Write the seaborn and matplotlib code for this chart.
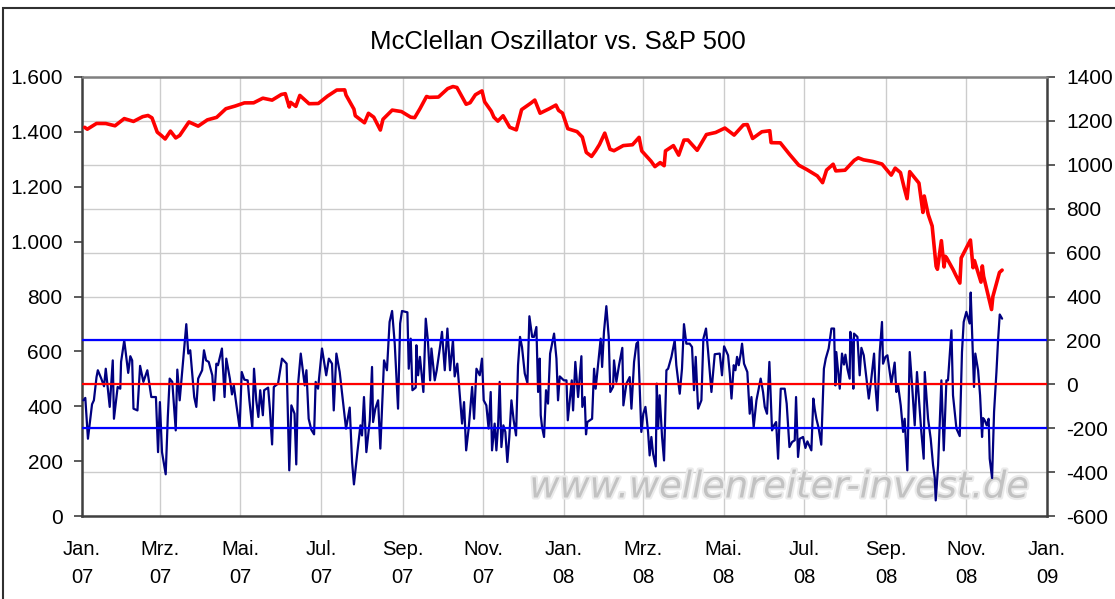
import numpy as np
import pandas as pd
import matplotlib
matplotlib.use("Agg")
import matplotlib.pyplot as plt
import matplotlib.patheffects as pe
import seaborn as sns
from matplotlib.ticker import FuncFormatter, MultipleLocator
from matplotlib.patches import Rectangle

sns.set_style("white")
plt.rcParams['font.family'] = ['Liberation Sans', 'DejaVu Sans']

# ---------------- data ----------------
title = "McClellan Oszillator vs. S&P 500"
watermark = "www.wellenreiter-invest.de"

spx_dates = [
    "2007-01-03", "2007-01-05", "2007-01-12", "2007-01-19", "2007-01-26", "2007-02-02", "2007-02-09",
    "2007-02-16", "2007-02-20", "2007-02-23", "2007-02-27", "2007-03-02", "2007-03-05", "2007-03-09",
    "2007-03-13", "2007-03-16", "2007-03-23", "2007-03-30", "2007-04-06", "2007-04-13", "2007-04-20",
    "2007-04-27", "2007-05-04", "2007-05-11", "2007-05-18", "2007-05-25", "2007-06-01", "2007-06-04",
    "2007-06-07", "2007-06-08", "2007-06-12", "2007-06-15", "2007-06-22", "2007-06-29", "2007-07-06",
    "2007-07-13", "2007-07-19", "2007-07-20", "2007-07-26", "2007-07-27", "2007-08-03", "2007-08-06",
    "2007-08-10", "2007-08-15", "2007-08-17", "2007-08-24", "2007-08-31", "2007-09-07", "2007-09-10",
    "2007-09-14", "2007-09-19", "2007-09-21", "2007-09-28", "2007-10-05", "2007-10-09", "2007-10-12",
    "2007-10-19", "2007-10-22", "2007-10-26", "2007-10-31", "2007-11-02", "2007-11-07", "2007-11-09",
    "2007-11-12", "2007-11-16", "2007-11-21", "2007-11-26", "2007-11-30", "2007-12-07", "2007-12-10",
    "2007-12-14", "2007-12-21", "2007-12-26", "2007-12-28", "2007-12-31",
    "2008-01-04", "2008-01-11", "2008-01-15", "2008-01-18", "2008-01-22", "2008-01-25", "2008-01-28",
    "2008-02-01", "2008-02-05", "2008-02-08", "2008-02-15", "2008-02-22", "2008-02-27", "2008-02-29",
    "2008-03-07", "2008-03-10", "2008-03-14", "2008-03-17", "2008-03-18", "2008-03-24", "2008-03-28",
    "2008-04-01", "2008-04-04", "2008-04-11", "2008-04-18", "2008-04-25", "2008-05-02", "2008-05-09",
    "2008-05-16", "2008-05-19", "2008-05-23", "2008-05-30", "2008-06-05", "2008-06-06", "2008-06-13",
    "2008-06-20", "2008-06-27", "2008-07-03", "2008-07-11", "2008-07-15", "2008-07-18", "2008-07-23",
    "2008-07-25", "2008-08-01", "2008-08-08", "2008-08-11", "2008-08-15", "2008-08-22", "2008-08-29",
    "2008-09-05", "2008-09-08", "2008-09-12", "2008-09-15", "2008-09-17", "2008-09-19", "2008-09-26",
    "2008-09-29", "2008-09-30", "2008-10-03", "2008-10-06", "2008-10-09", "2008-10-10", "2008-10-13",
    "2008-10-15", "2008-10-16", "2008-10-17", "2008-10-22", "2008-10-24", "2008-10-27", "2008-10-28",
    "2008-10-31", "2008-11-04", "2008-11-06", "2008-11-07", "2008-11-12", "2008-11-13", "2008-11-14",
    "2008-11-20", "2008-11-21", "2008-11-24", "2008-11-26", "2008-11-28",
]
spx_vals = [
    1416.6, 1409.7, 1430.7, 1430.5, 1422.2, 1448.4, 1438.1,
    1455.5, 1459.7, 1451.2, 1399.0, 1387.2, 1374.1, 1402.8,
    1378.0, 1386.9, 1436.1, 1420.9, 1443.8, 1452.9, 1484.4,
    1494.1, 1505.6, 1505.9, 1522.8, 1515.7, 1536.3, 1539.2,
    1490.7, 1507.7, 1493.0, 1532.9, 1502.6, 1503.4, 1530.4,
    1552.5, 1553.1, 1534.1, 1482.7, 1458.9, 1433.1, 1467.7,
    1453.6, 1406.7, 1445.9, 1479.4, 1474.0, 1453.6, 1451.7,
    1484.3, 1529.0, 1525.8, 1526.8, 1557.6, 1565.2, 1561.8,
    1500.6, 1506.3, 1535.3, 1549.4, 1509.7, 1475.6, 1453.7,
    1439.2, 1458.7, 1416.8, 1407.2, 1481.1, 1504.7, 1516.0,
    1468.0, 1484.5, 1497.7, 1478.5, 1468.4,
    1411.6, 1401.0, 1381.0, 1325.2, 1310.5, 1330.6, 1354.0,
    1395.4, 1336.6, 1331.3, 1350.0, 1353.1, 1380.0, 1330.6,
    1293.4, 1273.4, 1288.1, 1276.6, 1330.7, 1349.9, 1315.2,
    1370.2, 1370.4, 1332.8, 1390.3, 1397.8, 1413.9, 1388.3,
    1425.4, 1426.6, 1375.9, 1400.4, 1404.1, 1360.7, 1360.0,
    1317.9, 1278.4, 1262.9, 1239.5, 1214.9, 1260.7, 1282.2,
    1257.8, 1260.3, 1296.3, 1305.3, 1298.2, 1292.2, 1282.8,
    1242.3, 1267.8, 1251.7, 1192.7, 1156.4, 1255.1, 1213.3,
    1106.4, 1166.4, 1099.2, 1056.9, 909.9, 899.2, 1003.4,
    907.8, 946.4, 940.6, 896.8, 876.8, 848.9, 940.5,
    968.8, 1005.8, 904.9, 931.0, 852.3, 911.3, 873.3,
    752.4, 800.0, 851.8, 887.7, 896.2,
]

# McClellan oscillator: day offset from 2007-01-01, value
osc_day = [
    1, 2.5, 4.5, 7.6, 9, 11, 12, 14.6, 16.7, 18, 21, 23.3, 24.2, 27, 29, 29.6, 32, 35, 36.6, 38,
    39, 42, 44, 46.5, 49.5, 52.5, 56, 57.6, 59, 60.6, 63.4, 65, 66.4, 68.4, 71, 72.2, 74, 77, 79, 80.5,
    82, 85, 86.6, 88, 91, 92.4, 94, 96, 98.7, 100, 101.8, 103, 106, 108, 109.3, 112, 113.6, 115, 117, 119.4,
    121, 123, 125.5, 126.8, 129, 130.3, 132, 133.6, 135, 137, 138, 141, 142.3, 144, 145.3, 148.5, 151.5, 155, 157, 158.6,
    161, 162.3, 163.6, 165.7, 168.7, 170, 171.7, 173.7, 175.8, 177, 178.8, 181.8,
    185, 187, 189.4, 190.7, 192.7, 195.2, 198.5, 200, 202.8, 204.6, 206, 208.6, 210.9, 212.1, 213.6, 215.4, 218, 219.7,
    220.5, 222.2, 224.3, 226, 228.8, 231, 233, 234.9, 236.9, 239.4, 241, 242.4, 246.5, 247.5, 249, 250.3, 252.8, 253.3,
    254.6, 256, 258.6, 260.4, 262, 263.7, 264.7, 267.2, 268.7, 271.2, 272.7, 274.8, 276.8, 278.8, 281, 282.3, 284.3, 287.9,
    289.4, 291, 293, 295.5, 297, 298.8, 301.3, 303, 304.3, 306.3, 308, 309.6, 310.6, 312.6, 313.9, 315.2, 316.4, 317.7,
    319.2, 320.7, 322.2, 323.7, 325.3, 327, 328.8, 330.3, 331.8, 333.3, 335.4, 337.4, 338.9, 341, 342.4, 344.2, 345.5, 346.7,
    347.5, 348.5, 350, 351.5, 353, 354.6, 357.6, 359.4, 360.6, 361.9,
    365, 367, 368, 371, 372, 373.7, 375.8, 378.3, 379, 380.8, 381.8, 382.8, 386.4, 387.9, 389.1, 390.9, 392.9, 394,
    395.4, 397.2, 399, 400.2, 402.3, 403, 404.8, 406.8, 409.3, 410.1, 412.4, 414.9, 416.2, 418.2, 420, 421.2, 423.7, 425.2,
    426.8, 427.8, 428.8, 430, 431.3, 432.6, 434.6, 435.4, 436.4, 437.6, 439.4, 440.9, 442.7, 444, 446.5, 449, 450.2, 452.8,
    454.5, 456, 457.8, 460.3, 462.1, 463.6, 464.9, 466.7, 469.2, 470.7, 472.7, 474.2, 476.8, 479.3, 483.1, 484.8, 486.4, 489.4,
    490.7, 492, 493.7, 495, 496.2, 497.5, 499, 500, 501.5, 504, 505.8, 507.1, 508.8, 510.9, 512.6, 514.1, 515.9, 517.2,
    518.9, 520.7, 522.7, 524.2, 525.8, 527.3, 529.3, 532.3, 533.8, 535.9, 537.9, 539.9, 540.9, 542.4, 543.7,
    546.2, 548, 549.5, 552.5, 554, 555, 556.3, 558, 560, 562, 563.4, 565.6, 567.7, 569.7, 570.7, 571.4, 574, 575.7,
    577.2, 578.3, 579.8, 581.5, 582, 583.3, 584.3, 584.8, 587.4, 589.1, 590.4, 592.2, 594.2, 596, 597.5, 600, 601, 602.5,
    604.3, 606, 606.8, 608.6, 610.1, 613.1, 615.6, 616.9, 618.2, 620.2, 622, 623.2, 624.5, 625.2, 627, 628.8, 630.8, 632.5,
    635.8, 637.6, 638.4, 640.9, 642.9, 644.7, 646, 646.7, 648.5, 651, 652.8, 654.8, 656, 658.6, 659.8, 662.4, 664.9, 666.6,
    667.9, 669.9, 672.4, 673.2, 674.2, 675.7, 676.7, 678.8, 680.3, 681.8, 682.6, 683.8, 685.3, 686.8, 687.6, 689.4, 690.9, 692.7,
    694, 695.2, 697,
]
osc_val = [
    -73, -62, -248, -91, -73, 33, 64, 26, -9, 71, -103, 109, -157, -12, -20, 102, 200, 52, 128, 109,
    -111, -119, 84, 11, 64, -58, -58, -309, -81, -309, -410, -149, 26, 11, -210, 67, -73, 132, 274, 140,
    155, -58, -103, 26, 64, 155, 109, 102, 41, -73, 94, 87, 163, -58, 117, 26, -46, -5, -96, -199,
    56, 21, 18, -73, -199, 71, -73, -149, -27, -141, -27, -15, -111, -274, -12, 3, 117, 94, -392, -96,
    -134, -365, -5, 140, -5, 64, -157, -207, -228, 11, -20, 163,
    41, 117, 94, -119, 140, 56, -119, -202, -106, -354, -456, -309, -187, -233, -58, -309, -164, 79,
    -172, -111, -73, -293, 109, 64, 284, 334, 185, -111, 277, 334, 328, 71, 208, -27, -15, 178,
    41, 125, -35, 299, 201, 18, 163, 18, 64, 170, 239, 64, 254, 64, 201, 36, 94, -179,
    -81, -301, -195, -12, -157, 71, 41, 117, -73, -96, -202, -35, -301, -179, -301, -187, 11, -286,
    -187, -217, -354, -240, -73, -164, -233, 87, 216, 170, 49, 6, 310, 216, 216, 261, -35, 117,
    -141, -195, -240, -27, -88, 140, 231, 117, -73, 36,
    18, 18, -164, 18, -119, 102, -58, 128, -103, -58, -228, -172, -157, 71, -20, 87, 208, 79,
    239, 356, 216, -35, -12, 109, 11, 87, 166, -96, 3, 33, -111, 102, 185, 193, -217, -134,
    -103, -157, -217, -324, -240, -316, -374, 3, -202, -50, -240, -347, 64, 71, 125, 201, 87, -43,
    71, 274, 185, 185, 170, -27, 125, -111, -73, 208, 254, 155, -35, 137, 140, 41, 173, 132,
    49, -65, 87, 64, 125, 87, 140, 185, 94, 56, -134, -58, -195, -73, -20, 26, -35, -103,
    -134, 102, -210, -187, -172, -339, -20, -20, -88, -286, -263, -255, -58, -331, -248,
    -240, -290, -260, -301, -65, -111, -157, -199, -275, 71, 117, 163, 254, 254, -5, 147, -20, 140,
    90, 135, 71, 26, 239, 178, -20, 231, 216, 41, 166, 132, 26, -65, 3, 140, -5, -119,
    147, 284, 94, 125, 132, 3, 99, -35, -5, -96, -217, -157, -309, -392, 147, -5, -187, 56,
    -217, -339, 56, -157, -248, -369, -427, -529, -369, 18, -301, 18, 18, 246, -50, -202, -236, 147,
    284, 330, 277, 418, 246, -12, 140, 64, -50, -240, -154, -164, -187, -157, -339, -427, -126, 56,
    208, 318, 299,
]

ref_levels = [200, 0, -200]
ref_colors = ["#0000ff", "#ff0000", "#0000ff"]

xtick_dates = ["2007-01-01", "2007-03-01", "2007-05-01", "2007-07-01", "2007-09-01", "2007-11-01",
               "2008-01-01", "2008-03-01", "2008-05-01", "2008-07-01", "2008-09-01", "2008-11-01",
               "2009-01-01"]
xtick_labels = ["Jan.\n07", "Mrz.\n07", "Mai.\n07", "Jul.\n07", "Sep.\n07", "Nov.\n07",
                "Jan.\n08", "Mrz.\n08", "Mai.\n08", "Jul.\n08", "Sep.\n08", "Nov.\n08",
                "Jan.\n09"]

# ---------------- frames ----------------
spx = pd.DataFrame({"date": pd.to_datetime(spx_dates), "value": spx_vals})
osc = pd.DataFrame({"date": pd.Timestamp("2007-01-01") + pd.to_timedelta(osc_day, unit="D"),
                    "value": osc_val})

# ---------------- figure ----------------
W, H = 1115, 599
fig = plt.figure(figsize=(W / 100, H / 100), dpi=100)
fig.patch.set_facecolor("white")
ax = fig.add_axes([82 / W, 83 / H, 965 / W, 439 / H])   # oscillator (right scale)
ax2 = ax.twinx()                                         # S&P 500 (left scale)

tick_col = "#404040"

# oscillator
sns.lineplot(data=osc, x="date", y="value", ax=ax, color="#000080", linewidth=1.6,
             estimator=None, sort=False, zorder=3)
for lvl, col in zip(ref_levels, ref_colors):
    ax.axhline(lvl, color=col, linewidth=1.6, zorder=4)

# S&P 500
sns.lineplot(data=spx, x="date", y="value", ax=ax2, color="#ff0000", linewidth=2.6,
             estimator=None, sort=False, zorder=5)

# limits
xmin, xmax = pd.Timestamp(xtick_dates[0]), pd.Timestamp(xtick_dates[-1])
ax.set_xlim(xmin, xmax)
ax.set_ylim(-600, 1400)
ax2.set_ylim(0, 1600)
ax.yaxis.set_major_locator(MultipleLocator(200))
ax2.yaxis.set_major_locator(MultipleLocator(200))
ax2.yaxis.set_major_formatter(FuncFormatter(lambda v, _: f"{int(round(v)):,}".replace(",", ".")))
ax.yaxis.set_major_formatter(FuncFormatter(lambda v, _: f"{int(round(v))}"))

ax.set_xticks(pd.to_datetime(xtick_dates))
ax.set_xticklabels(xtick_labels)
for lbl in ax.get_xticklabels():
    lbl.set_linespacing(1.6)

# grid
ax.grid(True, color="#cccccc", linewidth=1.0)
ax.set_axisbelow(True)
ax2.grid(False)

# axes sides
ax.yaxis.tick_right()
ax2.yaxis.tick_left()
ax.tick_params(axis="y", direction="out", length=6, width=1.2, color=tick_col,
               labelsize=15, pad=8, right=True, left=False, labelright=True, labelleft=False,
               labelcolor="black")
ax2.tick_params(axis="y", direction="out", length=6, width=1.2, color=tick_col,
                labelsize=15, pad=8, left=True, right=False, labelleft=True, labelright=False,
                labelcolor="black")
ax.tick_params(axis="x", direction="out", length=5, width=1.2, color=tick_col,
               labelsize=14.5, pad=12, labelcolor="black")

ax.set_xlabel("")
ax.set_ylabel("")
ax2.set_xlabel("")
ax2.set_ylabel("")

for s in ax2.spines.values():
    s.set_visible(False)
for name in ["left", "right", "bottom"]:
    ax.spines[name].set_color(tick_col)
    ax.spines[name].set_linewidth(1.8)
ax.spines["top"].set_color("#808080")
ax.spines["top"].set_linewidth(1.8)

# title
fig.text(0.5, 1 - 42 / H, title, ha="center", va="center", fontsize=18.5, color="black")

# watermark with soft halo
wm_x = (1028 - 82) / 965
wm_y = (516 - 487) / 439
ax.text(wm_x, wm_y, watermark, transform=ax.transAxes, ha="right", va="center",
        fontsize=26.5, family=["DejaVu Sans"], style="italic", color="#c2c2c2", zorder=2,
        path_effects=[pe.withStroke(linewidth=3, foreground="#ebebeb")])

# outer frame
fig.patches.append(Rectangle((3 / W, -0.05), 1.2, (H - 8) / H + 0.05, transform=fig.transFigure,
                             fill=False, edgecolor="#303030", linewidth=1.5, clip_on=False))

fig.savefig("out.png", dpi=100, facecolor="white")
